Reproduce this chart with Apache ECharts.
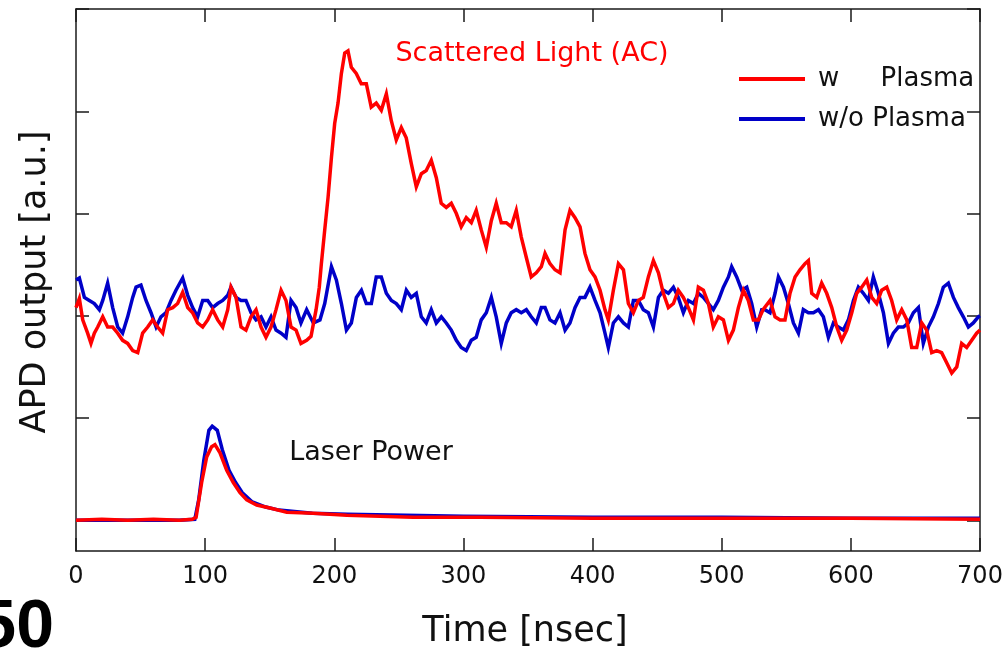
<!DOCTYPE html>
<html>
<head>
<meta charset="utf-8">
<script src="https://cdn.jsdelivr.net/npm/echarts@6/dist/echarts.min.js"></script>
<style>
html,body{margin:0;padding:0;background:#fff;}
#chart{width:1006px;height:653px;}
</style>
</head>
<body>
<div id="chart"></div>
<script>
// ---- Data (time in nsec, APD output in a.u.) ----
const seriesNames = ['w     Plasma', 'w/o Plasma'];
const xTickValues = [0, 100, 200, 300, 400, 500, 600, 700];
const yTickValues = [0, 1, 2, 3, 4, 5];

const scatterWithout = [
[0,2.35],[2.6,2.37],[6.5,2.18],[10.3,2.15],[14.2,2.12],[18.1,2.06],[20.7,2.15],[24.5,2.32],[28.4,2.08],[32.3,1.89],
[36.1,1.83],[40,1.99],[43.9,2.18],[46.5,2.28],[50.3,2.30],[54.2,2.15],[58.1,2.03],[62,1.89],[65.8,1.99],[69.7,2.03],
[73.6,2.15],[77.4,2.25],[82.6,2.37],[86.5,2.20],[90.3,2.08],[94.2,1.99],[98.1,2.15],[102,2.15],[105.8,2.08],[109.7,2.12],
[113.6,2.15],[117.5,2.20],[120,2.28],[123.9,2.18],[127.8,2.15],[131.6,2.15],[135.5,2.03],[139.4,1.96],[143.3,1.99],[147.1,1.89],
[151,1.99],[154.9,1.86],[158.8,1.83],[162.6,1.79],[166.5,2.15],[170.4,2.08],[174.2,1.93],[178.6,2.06],[183.8,1.93],[188.9,1.96],
[192.6,2.12],[197.8,2.48],[201.6,2.35],[205.5,2.12],[209.4,1.86],[213.2,1.93],[217.1,2.18],[221,2.25],[224.8,2.12],[228.7,2.12],
[232.5,2.38],[236.4,2.38],[240.3,2.22],[244.2,2.15],[248,2.12],[251.9,2.06],[255.8,2.25],[259.6,2.18],[263.5,2.22],[267.4,1.99],
[271.2,1.93],[275.1,2.06],[279,1.93],[282.9,1.99],[286.7,1.93],[290.6,1.86],[294.5,1.76],[298.3,1.69],[302.2,1.66],[306.1,1.76],
[309.9,1.79],[313.8,1.96],[317.7,2.03],[321.6,2.18],[325.4,1.99],[329.3,1.73],[333.2,1.93],[337,2.03],[340.9,2.06],[344.8,2.03],
[348.7,2.06],[352.5,1.99],[356.4,1.93],[360.3,2.08],[363.2,2.08],[367,1.96],[370.9,1.93],[374.8,2.03],[378.7,1.86],[382.5,1.93],
[386.4,2.08],[390.3,2.18],[394.1,2.18],[398,2.28],[401.9,2.15],[405.8,2.03],[409.6,1.83],[412.2,1.69],[416.1,1.93],[420,1.99],
[423.9,1.93],[427.7,1.89],[431.6,2.15],[435.5,2.15],[439.3,2.06],[443.2,2.03],[447.1,1.89],[451,2.18],[454.8,2.25],[458.7,2.22],
[462.6,2.28],[466.4,2.18],[470.3,2.03],[474.2,2.15],[478.1,2.12],[481.9,2.22],[485.8,2.18],[489.7,2.12],[493.5,2.06],[497.4,2.15],
[501.3,2.28],[505.2,2.38],[507.7,2.48],[511.6,2.38],[515.5,2.25],[519.4,2.28],[523.2,2.12],[527.1,1.89],[531,2.06],[533.5,2.06],
[537.4,2.03],[541.3,2.22],[543.9,2.38],[547.8,2.28],[551.6,2.12],[555.5,1.93],[559.4,1.83],[563.2,2.06],[567.1,2.03],[571,2.03],
[574.9,2.06],[578.7,1.99],[582.6,1.79],[586.5,1.93],[590.3,1.89],[594.2,1.86],[598.1,1.96],[602,2.15],[605.8,2.28],[609.7,2.22],
[613.6,2.15],[617.4,2.38],[621.3,2.22],[625.2,2.03],[629.1,1.73],[632.9,1.83],[636.8,1.89],[640.7,1.89],[644.5,1.93],[648.4,2.03],
[652.3,2.08],[656.1,1.73],[660,1.89],[663.9,1.99],[667.8,2.12],[671.6,2.28],[675.5,2.32],[679.4,2.18],[683.2,2.08],[687.1,1.99],
[691,1.89],[694.8,1.93],[698.7,1.99],[700,2.0]
];

const scatterWith = [
[0,2.08],[2.6,2.17],[5.2,1.96],[9,1.83],[11.6,1.73],[14.2,1.83],[16.8,1.89],[20.7,1.99],[24.5,1.89],[28.4,1.89],
[32.3,1.83],[36.1,1.76],[40,1.73],[43.9,1.66],[47.8,1.64],[51.6,1.83],[55.5,1.89],[59.4,1.96],[63.2,1.89],[67.1,1.83],
[71,2.06],[74.9,2.08],[78.7,2.12],[82.6,2.23],[86.5,2.08],[90.3,2.03],[94.2,1.93],[98.1,1.89],[102,1.96],[105.8,2.06],
[109.7,1.96],[113.6,1.89],[117.5,2.06],[120,2.28],[123.9,2.18],[127.8,1.89],[131.6,1.86],[135.5,1.99],[139.4,2.06],[143.3,1.89],
[147.1,1.79],[151,1.89],[154.9,2.06],[158.8,2.25],[162.6,2.15],[166.5,1.89],[170.4,1.86],[174.2,1.73],[178.6,1.76],[182,1.80],
[185.9,2.06],[188.4,2.28],[190,2.51],[192.6,2.84],[195.2,3.16],[197.8,3.55],[200.3,3.88],[202.9,4.08],[205.5,4.37],[208.1,4.57],
[210.6,4.59],[213.2,4.43],[217,4.37],[220.9,4.27],[224.8,4.27],[228.6,4.04],[232.5,4.08],[236.4,4.01],[240.3,4.17],[244.1,3.91],
[248,3.72],[251.9,3.84],[255.7,3.74],[259.6,3.49],[263.5,3.26],[267.4,3.39],[271.2,3.42],[275.1,3.52],[279,3.35],[282.8,3.10],
[286.7,3.06],[290.6,3.10],[294.5,3.00],[298.3,2.87],[302.2,2.96],[306.1,2.91],[309.9,3.03],[313.8,2.84],[317.7,2.67],[321.6,2.93],
[325.4,3.10],[329.3,2.91],[333.2,2.91],[337,2.87],[340.9,3.03],[344.8,2.77],[348.7,2.57],[352.5,2.38],[356.4,2.42],[360.3,2.48],
[363.2,2.61],[367,2.51],[370.9,2.45],[374.8,2.42],[378.7,2.84],[382.5,3.03],[386.4,2.96],[390.3,2.87],[394.1,2.61],[398,2.45],
[401.9,2.38],[405.8,2.25],[409.6,2.06],[412.2,1.96],[416.1,2.25],[420,2.51],[423.9,2.45],[427.7,2.12],[431.6,2.03],[435.5,2.15],
[439.3,2.18],[443.2,2.38],[447.1,2.54],[451,2.42],[454.8,2.22],[458.7,2.08],[462.6,2.12],[466.4,2.25],[470.3,2.18],[474.2,2.08],
[478.1,1.96],[481.9,2.28],[485.8,2.25],[489.7,2.12],[493.5,1.89],[497.4,1.99],[501.3,1.96],[505.2,1.76],[509,1.86],[512.9,2.08],
[516.8,2.25],[520.6,2.15],[524.5,1.96],[528.4,1.96],[532,2.06],[537.4,2.15],[541.3,1.99],[545.2,1.96],[549,1.96],[552.9,2.22],
[556.8,2.38],[560.6,2.45],[564.5,2.51],[567.1,2.54],[569.7,2.22],[573.6,2.18],[577.4,2.32],[581.3,2.22],[585.2,2.08],[589.1,1.89],
[592.9,1.76],[596.8,1.86],[600.7,2.03],[604.5,2.22],[608.4,2.28],[612.3,2.35],[616.2,2.18],[620,2.12],[623.9,2.25],[627.8,2.28],
[631.6,2.15],[635.5,1.96],[639.4,2.06],[643.3,1.96],[647.1,1.69],[651,1.69],[654.9,1.93],[658.7,1.86],[662.6,1.64],[666.5,1.66],
[670.3,1.64],[674.2,1.54],[678.1,1.44],[682,1.50],[685.8,1.73],[689.7,1.69],[693.6,1.76],[697.4,1.83],[700,1.86]
];

const laserWithout = [
[0,0],[40,0],[80,0],[92,0.01],[95,0.20],[99,0.59],[102.9,0.88],[105.5,0.92],[109.4,0.88],[113.3,0.69],
[118.5,0.49],[123.6,0.37],[128.8,0.27],[136.5,0.18],[146.9,0.13],[157.2,0.10],[183,0.07],[210,0.06],[300,0.04],[400,0.03],
[500,0.03],[600,0.02],[700,0.02]
];

const laserWith = [
[0,0],[20,0.01],[40,0],[60,0.01],[80,0],[90,0.01],[93,0.03],[97.3,0.37],[101.2,0.62],[105,0.72],
[107.6,0.74],[111.5,0.66],[116.7,0.49],[121.8,0.37],[127,0.27],[132.2,0.20],[139.9,0.15],[150.2,0.12],[163.2,0.08],[183.8,0.07],
[209.6,0.05],[261,0.03],[312.8,0.03],[400,0.02],[500,0.02],[600,0.02],[700,0.01]
];

const labelScattered = 'Scattered Light (AC)';
const labelLaser = 'Laser Power';
const labelYAxis = 'APD output [a.u.]';
const labelXAxis = 'Time [nsec]';
const labelFigure = '50';

// ---- Styles ----
const RED = '#ff0000';
const BLUE = '#0000c8';
const AXIS = '#1a1a1a';
const FONT = '"DejaVu Sans", sans-serif';

const chart = echarts.init(document.getElementById('chart'), null, {renderer: 'canvas'});

const axisCommon = {
  axisLine: {show: true, onZero: false, lineStyle: {color: AXIS, width: 1.5}},
  axisTick: {show: true, inside: true, length: 13, lineStyle: {color: AXIS, width: 1.5}},
  splitLine: {show: false}
};

function lineSeries(name, data, color, z, width) {
  return {
    name: name, type: 'line', data: data, xAxisIndex: 0, yAxisIndex: 0,
    showSymbol: false, symbol: 'none', z: z,
    lineStyle: {color: color, width: width, join: 'miter'},
    itemStyle: {color: color},
    emphasis: {disabled: true},
    animation: false
  };
}

chart.setOption({
  animation: false,
  backgroundColor: '#ffffff',
  textStyle: {fontFamily: FONT},
  grid: {left: 76, top: 9, width: 904, height: 542, containLabel: false},
  legend: {
    orient: 'vertical', left: 739, top: 64, padding: 0,
    icon: 'rect', itemWidth: 66, itemHeight: 4, itemGap: 10,
    data: [{name: seriesNames[0], itemStyle: {color: RED}}, {name: seriesNames[1], itemStyle: {color: BLUE}}],
    textStyle: {fontFamily: FONT, fontSize: 26, color: '#111', lineHeight: 30, padding: [0, 0, 0, 8]},
    selectedMode: false
  },
  xAxis: [
    Object.assign({}, axisCommon, {
      type: 'value', position: 'bottom', min: 0, max: 700, interval: 100,
      axisLabel: {show: true, fontFamily: FONT, fontSize: 24, color: '#111', margin: 14,
        customValues: xTickValues}
    }),
    Object.assign({}, axisCommon, {
      type: 'value', position: 'top', min: 0, max: 700, interval: 100,
      axisLabel: {show: false}
    })
  ],
  yAxis: [
    Object.assign({}, axisCommon, {
      type: 'value', position: 'left', min: -0.3, max: 5,
      axisTick: Object.assign({}, axisCommon.axisTick, {customValues: yTickValues}),
      axisLabel: {show: false}
    }),
    Object.assign({}, axisCommon, {
      type: 'value', position: 'right', min: -0.3, max: 5,
      axisTick: Object.assign({}, axisCommon.axisTick, {customValues: yTickValues}),
      axisLabel: {show: false}
    })
  ],
  series: [
    lineSeries(seriesNames[1], scatterWithout, BLUE, 2, 3.5),
    lineSeries(seriesNames[0], scatterWith, RED, 3, 3.5),
    lineSeries(seriesNames[1], laserWithout, BLUE, 2, 3.5),
    lineSeries(seriesNames[0], laserWith, RED, 3, 3.5)
  ],
  graphic: [
    {type: 'text', x: 532, y: 54, z: 10,
      style: {text: labelScattered, fill: RED, font: '27px ' + FONT, textAlign: 'center', textVerticalAlign: 'middle'}},
    {type: 'text', x: 371, y: 453, z: 10,
      style: {text: labelLaser, fill: '#111', font: '27px ' + FONT, textAlign: 'center', textVerticalAlign: 'middle'}},
    {type: 'text', x: 36, y: 282, rotation: Math.PI / 2, z: 10,
      style: {text: labelYAxis, fill: '#111', font: '35px ' + FONT, textAlign: 'center', textVerticalAlign: 'middle'}},
    {type: 'text', x: 525, y: 632, z: 10,
      style: {text: labelXAxis, fill: '#111', font: '35px ' + FONT, textAlign: 'center', textVerticalAlign: 'middle'}},
    {type: 'text', x: 54, y: 628, z: 10,
      style: {text: labelFigure, fill: '#000', font: 'bold 68px "Liberation Sans", Arial, sans-serif', textAlign: 'right', textVerticalAlign: 'middle'}}
  ]
});
</script>
</body>
</html>
